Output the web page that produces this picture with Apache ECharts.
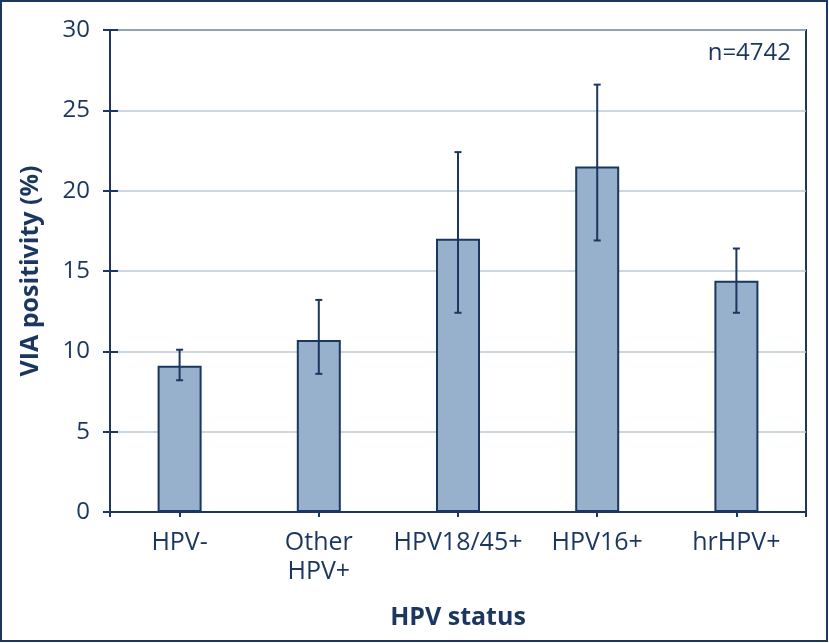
<!DOCTYPE html>
<html>
<head>
<meta charset="utf-8">
<script src="https://cdn.jsdelivr.net/npm/echarts@6/dist/echarts.min.js"></script>
<style>
html,body{margin:0;padding:0;background:#fff;}
#chart{width:829px;height:643px;}
</style>
</head>
<body>
<div id="chart"></div>
<script>
// ---- data ----
var categories = ['HPV-', 'Other\nHPV+', 'HPV18/45+', 'HPV16+', 'hrHPV+'];
var positivity = [9.1, 10.7, 17.0, 21.5, 14.4];
var ciLower = [8.2, 8.6, 12.4, 16.9, 12.4];
var ciUpper = [10.1, 13.2, 22.4, 26.6, 16.4];
var yTicks = [0, 5, 10, 15, 20, 25, 30];
var sampleNote = 'n=4742';
var xTitle = 'HPV status';
var yTitle = 'VIA positivity (%)';

var navy = '#1b365f';
var font = 'Open Sans';

var errorData = categories.map(function (c, i) { return [i, ciLower[i], ciUpper[i]]; });

var chart = echarts.init(document.getElementById('chart'), null, {renderer: 'canvas'});
chart.setOption({
  backgroundColor: '#ffffff',
  animation: false,
  textStyle: {fontFamily: font, color: navy},
  grid: {left: 110, right: 23, top: 30, bottom: 131, show: true, borderColor: navy, borderWidth: 2, backgroundColor: 'transparent'},
  graphic: [
    {type: 'rect', shape: {x: 1, y: 1, width: 826, height: 640}, style: {fill: 'none', stroke: navy, lineWidth: 2}, z: 100},
    {type: 'text', x: 791, y: 53, style: {text: sampleNote, font: '24px "Open Sans"', fill: navy, align: 'right', verticalAlign: 'middle'}}
  ],
  xAxis: [{
    type: 'category',
    data: categories,
    position: 'bottom',
    name: xTitle,
    nameLocation: 'middle',
    nameGap: 93,
    nameTextStyle: {fontFamily: font, fontWeight: 'bold', fontSize: 25, color: navy},
    axisLine: {show: true, lineStyle: {color: navy, width: 2}},
    axisTick: {show: true, alignWithLabel: true, length: 5, lineStyle: {color: navy, width: 2}},
    axisLabel: {fontFamily: font, fontSize: 25, color: navy, margin: 16, lineHeight: 29, interval: 0, verticalAlign: 'top'},
    splitLine: {show: false}
  }, {
    type: 'value',
    min: 0, max: 1, interval: 1,
    position: 'bottom',
    axisLine: {show: false},
    axisTick: {show: true, length: 5, lineStyle: {color: navy, width: 2}},
    axisLabel: {show: false},
    splitLine: {show: false}
  }],
  yAxis: [{
    type: 'value',
    min: yTicks[0], max: yTicks[yTicks.length - 1], interval: 5,
    name: yTitle,
    nameLocation: 'middle',
    nameGap: 67,
    nameTextStyle: {fontFamily: font, fontWeight: 'bold', fontSize: 25, color: navy},
    axisLine: {show: true, lineStyle: {color: navy, width: 2}},
    axisTick: {show: true, length: 7, lineStyle: {color: navy, width: 2}},
    axisLabel: {fontFamily: font, fontSize: 24, color: navy, margin: 20},
    splitLine: {show: true, lineStyle: {color: '#b9c8d8', width: 1.5}}
  }, {
    type: 'value',
    min: yTicks[0], max: yTicks[yTicks.length - 1], interval: 5,
    position: 'left',
    axisLine: {show: false},
    axisTick: {show: true, inside: true, length: 8, lineStyle: {color: navy, width: 2}},
    axisLabel: {show: false},
    splitLine: {show: false}
  }],
  series: [{
    type: 'bar',
    data: positivity,
    xAxisIndex: 0, yAxisIndex: 0,
    barWidth: 44,
    itemStyle: {color: '#97b0cb', borderColor: navy, borderWidth: 2},
    z: 2
  }, {
    type: 'custom',
    xAxisIndex: 0, yAxisIndex: 0,
    data: errorData,
    z: 5,
    renderItem: function (params, api) {
      var x = api.value(0);
      var lo = api.coord([x, api.value(1)]);
      var hi = api.coord([x, api.value(2)]);
      var cap = 3.5;
      var st = {stroke: navy, lineWidth: 2};
      return {
        type: 'group',
        children: [
          {type: 'line', shape: {x1: hi[0], y1: hi[1], x2: lo[0], y2: lo[1]}, style: st},
          {type: 'line', shape: {x1: hi[0] - cap, y1: hi[1], x2: hi[0] + cap, y2: hi[1]}, style: st},
          {type: 'line', shape: {x1: lo[0] - cap, y1: lo[1], x2: lo[0] + cap, y2: lo[1]}, style: st}
        ]
      };
    }
  }]
});
</script>
</body>
</html>
